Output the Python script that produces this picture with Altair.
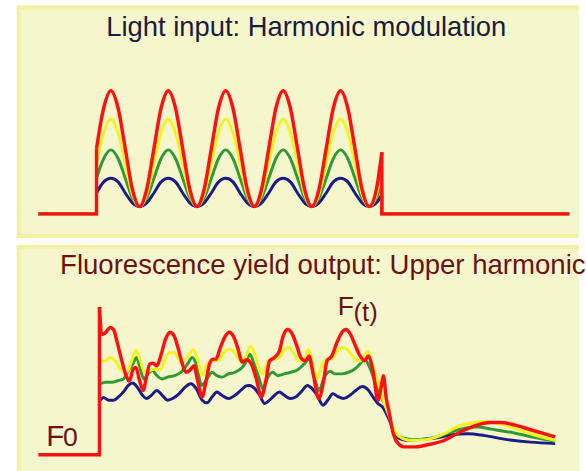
import altair as alt
import pandas as pd

# ---------------- light input: harmonic modulation (upper panel) ----------------
# time in arbitrary units, pulse switched on at t = 0
t_light = [0, 7.3, 14.6, 21.9, 29.2, 36.4, 43.7, 51.0, 58.3, 65.6, 72.9, 80.2, 87.5, 94.7,
           102.0, 109.3, 116.6, 123.9, 131.2, 138.5, 145.8, 153.0, 160.3, 167.6, 174.9,
           182.2, 189.5, 196.8, 204.1, 211.3, 218.6, 225.9, 233.2, 240.5, 247.8, 255.1,
           262.4, 269.6, 276.9, 284.2, 289.7]
light_red = [53, 86, 100, 86, 53, 20, 6, 20, 53, 86, 100, 86, 53, 20, 6, 20,
             53, 86, 100, 86, 53, 20, 6, 20, 53, 86, 100, 86, 53, 20, 6, 20,
             53, 86, 100, 86, 53, 20, 6, 20, 50]
light_yellow = [41, 66, 77, 66, 41, 16, 6, 16, 41, 66, 77, 66, 41, 16, 6, 16,
                41, 66, 77, 66, 41, 16, 6, 16, 41, 66, 77, 66, 41, 16, 6, 16,
                41, 66, 77, 66, 41, 16, 6, 16, 35]
light_green = [29, 45, 52, 45, 29, 13, 6, 13, 29, 45, 52, 45, 29, 13, 6, 13,
               29, 45, 52, 45, 29, 13, 6, 13, 29, 45, 52, 45, 29, 13, 6, 13,
               29, 45, 52, 45, 29, 13, 6, 13, 25]
light_blue = [17, 26, 29, 26, 17, 9, 6, 9, 17, 26, 29, 26, 17, 9, 6, 9,
              17, 26, 29, 26, 17, 9, 6, 9, 17, 26, 29, 26, 17, 9, 6, 9,
              17, 26, 29, 26, 17, 9, 6, 9, 16]
# dark periods before and after the modulated pulse
light_dark_before_t = [-59, 0]
light_dark_after_t = [289.7, 480]

# ---------------- fluorescence yield output (lower panel) ----------------
fy_dark_t = [-59, 3]
fy_red_spike = 100

fy_red_t = [4.7, 9, 14, 17.3, 20.7, 25.7, 30.7, 33.3, 37.3, 40, 43.3, 47.3, 50.7, 54, 57.3,
            61.3, 65.7, 70, 74.7, 79, 82.3, 86.7, 90.7, 95, 99, 102.3, 107.3, 110.7, 114.7,
            118, 121.3, 125.7, 130.7, 134.7, 139, 143.3, 148, 152.3, 157.3, 162.3, 167.3,
            172.3, 175.7, 180.7, 185.7, 189, 194, 199, 204, 207.3, 212.3, 215.7, 220, 225.7,
            230.7, 234, 239, 244, 250, 253.3, 258, 262.3, 266.7, 272.3, 275.7, 280.7, 285.7,
            289, 291.3, 294, 297.3, 300.7, 305.7, 312.3, 324, 337.3, 350.7, 367.3, 384, 399,
            410.7, 424, 440.7, 465.7]
fy_red = [81.3, 82.5, 86.2, 84.7, 76.9, 63.5, 52.5, 49.8, 58, 59.1, 51.3, 43.5, 52.5, 61.3, 62,
          60.2, 68, 78, 82.9, 80.2, 73.5, 62.5, 55.8, 57.3, 60.2, 51.3, 39.1, 48, 61.3,
          64.7, 64.7, 72.5, 80.2, 82.9, 80.2, 72.5, 62.7, 64.3, 61.3, 51.3, 39.1,
          51.3, 63.5, 65.8, 70.2, 79.1, 84.7, 81.3, 72.5, 65.8, 63.5, 66.9, 54.7, 38,
          50.2, 63.5, 66.9, 75.8, 83.5, 84.7, 81.3, 74.7, 68, 63.5, 66.9, 56.9, 36.9,
          45.8, 53.5, 39.1, 28, 16, 8, 5.3, 5.3, 6.9, 9.1, 14.7, 19.5, 21.8,
          21.8, 20.2, 16.9, 12]

fy_yellow_t = [4, 9, 14, 17.3, 21.3, 25.7, 30.7, 35.7, 40, 44, 49, 54, 59, 64, 69, 74, 79, 83.3,
               88, 94, 98.3, 103, 107.3, 112.3, 117.3, 123.3, 129, 135.7, 140.7, 145.7, 150.7,
               156.7, 160.7, 165.7, 169, 174, 180.7, 185.7, 190.7, 195.7, 200.7, 205.7, 210.7,
               215, 219, 224, 229, 234, 239, 244, 250.7, 257.3, 262.3, 267.3, 272.3, 275.7,
               279, 283.3, 287.3, 292.3, 297.3, 300.7, 307.3, 317.3, 334, 350.7, 367.3, 384,
               394, 407.3, 424, 444, 465.7]
fy_yellow = [63.5, 63.5, 65.8, 64.7, 61.3, 56.9, 55.8, 63.5, 70.7, 64.7, 55.8, 56.9, 58, 57.3,
             63.5, 69.1, 69.1, 64.7, 63.1, 68, 71.3, 63.5, 53.5, 61.3, 63.5, 63.5, 69.1, 71.3,
             69.1, 63.5, 65.3, 73.5, 68, 56.9, 54.7, 63.5, 64.7, 65.8, 71.3, 72.5, 68, 63.5,
             63.5, 71.3, 63.5, 51.3, 61.3, 64.7, 64.7, 70.2, 72.5, 69.1, 64.7, 63.5, 66.9,
             70.2, 63.5, 54.7, 45.8, 34.7, 25.8, 19.1, 12.5, 9.8, 10.2, 13.5, 19.1, 21.8,
             22.5, 21.3, 18, 13.5, 9.8]

fy_green_t = [4, 9, 15.7, 22.3, 27.3, 32.3, 36.7, 40.7, 44, 48, 52.3, 56.7, 61.3, 66.7, 72.3,
              79, 85.7, 92.3, 97.3, 101.3, 106.7, 112.3, 117.3, 122.3, 127.3, 134, 140.7,
              147.3, 152.3, 155.7, 160, 164.7, 169, 174, 179, 184, 190.7, 197.3, 204, 210.7,
              215.7, 220, 225.7, 231.3, 237.3, 242.3, 249, 255.7, 262.3, 267.3, 272.3, 277.3,
              282.3, 287.3, 292.3, 297.3, 300.7, 310.7, 324, 340.7, 357.3, 374, 387.3, 400.7,
              424, 444, 465.7]
fy_green = [48, 49.1, 49.1, 50.2, 51.3, 56.9, 61.3, 65.8, 59.1, 51.3, 54.7, 56.9, 53.5, 51.3,
            52.5, 53.5, 55.8, 61.3, 65.8, 61.3, 46.9, 51.3, 55.8, 53.5, 52.5, 54.7, 55.8,
            58.7, 63.3, 68, 61.3, 52.5, 44.7, 52.5, 55.8, 53.5, 54.7, 55.8, 57.3, 61.3,
            64.7, 56.9, 43.5, 52.5, 56.5, 54.7, 54.7, 55.8, 58, 61.3, 64.7, 59.1,
            50.2, 41.3, 34.7, 26.9, 16.9, 11.3, 10.2, 11.3, 14.7, 18, 18.7, 17.3,
            14.7, 11.8, 9.1]

fy_blue_t = [4, 7.3, 12.3, 17.3, 22.3, 27.3, 32.3, 36.7, 41.3, 46.7, 50.7, 55.7, 61.3, 66.7,
             72.3, 77.3, 84, 90, 95.7, 101.3, 107.3, 112.3, 117.3, 122.3, 127.3, 134, 140.7,
             147.3, 152.3, 155.7, 160.7, 165.7, 170.7, 175.7, 180.7, 185.7, 190.7, 196.7,
             202.3, 209, 214, 219, 224, 230, 234.7, 240, 244.7, 250.7, 257.3, 263.3, 270,
             275.7, 280.7, 285.7, 290.7, 295.7, 300.7, 304, 314, 327.3, 344, 360.7, 377.3,
             394, 417.3, 440.7, 465.7]
fy_blue = [36.9, 38.7, 36.9, 36.9, 39.1, 42.5, 46.9, 48.5, 45.8, 40.2, 38, 40.2, 43.5, 40.2,
           36.9, 38, 41.3, 45.8, 48, 44.7, 36.9, 35.1, 39.1, 42.5, 40.2, 38, 40.2,
           44, 46.7, 46.9, 44.7, 40.2, 34.7, 36.9, 40.2, 42.5, 40.2, 38,
           39.1, 43.5, 46.9, 44.7, 40.2, 33.5, 36.9, 41.3, 39.5, 38, 40.2, 43.5, 46.2,
           44, 39.1, 34.7, 32, 25.8, 18, 12.5, 9.8, 10.2, 11.3, 13.5, 14.2,
           12.9, 10.2, 8.5, 7.5]

# ---------------- styling ----------------
COLORS = {"blue": "#1c1c88", "green": "#2f9a35", "yellow": "#f4f41c", "red": "#ff1010"}
WIDTHS = {"blue": 3, "green": 3, "yellow": 3, "red": 3.5}
DRAW_ORDER = ["blue", "green", "yellow", "red"]
PANEL_FILL = "#f5f6cc"
BORDER = "#f1f0a3"
FONT = "Liberation Sans"

PANEL_W = 571
TOP_H = 236
BOT_H = 232

X_SCALE = alt.Scale(domain=[-81, 490], nice=False, zero=False)
Y_TOP = alt.Scale(domain=[-19.6, 169.2], nice=False, zero=False)
Y_BOT = alt.Scale(domain=[-12.67, 142], nice=False, zero=False)


def path_df(ts, vs):
    return pd.DataFrame({"t": ts, "v": vs, "i": range(len(ts))})


def trace_layers(edges, curves, yscale):
    """edges: sharp steps drawn with straight segments; curves: smooth traces."""
    layers = []
    for name in DRAW_ORDER:
        enc = dict(
            x=alt.X("t:Q", scale=X_SCALE, axis=None),
            y=alt.Y("v:Q", scale=yscale, axis=None),
            order=alt.Order("i:Q"),
        )
        for df in edges[name]:
            layers.append(
                alt.Chart(df).mark_line(interpolate="linear", color=COLORS[name],
                                        strokeWidth=WIDTHS[name]).encode(**enc)
            )
        layers.append(
            alt.Chart(curves[name]).mark_line(interpolate="monotone", color=COLORS[name],
                                              strokeWidth=WIDTHS[name]).encode(**enc)
        )
    return layers


def frame_layers(height, with_bottom):
    one = pd.DataFrame({"k": [0]})
    rules = [
        alt.Chart(one).mark_rule(color=BORDER, strokeWidth=4).encode(
            x=alt.value(2), y=alt.value(0), y2=alt.value(height)),
        alt.Chart(one).mark_rule(color=BORDER, strokeWidth=4).encode(
            x=alt.value(0), x2=alt.value(PANEL_W), y=alt.value(2)),
    ]
    if with_bottom:
        rules.append(
            alt.Chart(one).mark_rule(color=BORDER, strokeWidth=4).encode(
                x=alt.value(0), x2=alt.value(PANEL_W), y=alt.value(height - 2)))
    return rules


def label(text, x, y, size, color, align="left"):
    return alt.Chart(pd.DataFrame({"txt": [text]})).mark_text(
        font=FONT, fontSize=size, color=color, align=align, baseline="alphabetic"
    ).encode(text="txt:N", x=alt.value(x), y=alt.value(y))


# ---- upper panel ----
light_series = {"red": light_red, "yellow": light_yellow, "green": light_green, "blue": light_blue}
light_edges = {}
light_curves = {}
for name, vals in light_series.items():
    light_edges[name] = [
        path_df(light_dark_before_t + [0], [0, 0, vals[0]]),
        path_df([light_dark_after_t[0]] + light_dark_after_t, [vals[-1], 0, 0]),
    ]
    light_curves[name] = path_df(t_light, vals)

top = alt.layer(
    *frame_layers(TOP_H, True),
    *trace_layers(light_edges, light_curves, Y_TOP),
    label("Light input: Harmonic modulation", 294, 31, 27.8, "#1b1b3c", align="center"),
).properties(width=PANEL_W, height=TOP_H)

# ---- lower panel ----
fy_edges = {
    "red": [path_df(fy_dark_t + [3, fy_red_t[0]], [0, 0, fy_red_spike, fy_red[0]])],
    "yellow": [path_df([3, 3, fy_yellow_t[0]], [0, fy_yellow[0], fy_yellow[0]])],
    "green": [path_df([3, 3, fy_green_t[0]], [0, fy_green[0], fy_green[0]])],
    "blue": [path_df([3, 3, fy_blue_t[0]], [0, fy_blue[0], fy_blue[0]])],
}
fy_curves = {
    "red": path_df(fy_red_t, fy_red),
    "yellow": path_df(fy_yellow_t, fy_yellow),
    "green": path_df(fy_green_t, fy_green),
    "blue": path_df(fy_blue_t, fy_blue),
}

MAROON = "#6a1212"
bottom = alt.layer(
    *frame_layers(BOT_H, False),
    *trace_layers(fy_edges, fy_curves, Y_BOT),
    label("Fluorescence yield output: Upper harmonic", 44, 30, 28, MAROON),
    label("F", 326, 71, 27, MAROON),
    label("(t)", 342, 77, 26, MAROON),
    label("F", 30, 204, 30, MAROON),
    label("0", 47, 204, 27, MAROON),
).properties(width=PANEL_W, height=BOT_H)

chart = (
    alt.vconcat(top, bottom, spacing=3)
    .properties(padding={"left": 15, "top": 0, "right": 0, "bottom": 0}, background="white")
    .configure_view(fill=PANEL_FILL, strokeWidth=0)
)

chart.save("out.html", embed_options={"renderer": "svg", "actions": False})
